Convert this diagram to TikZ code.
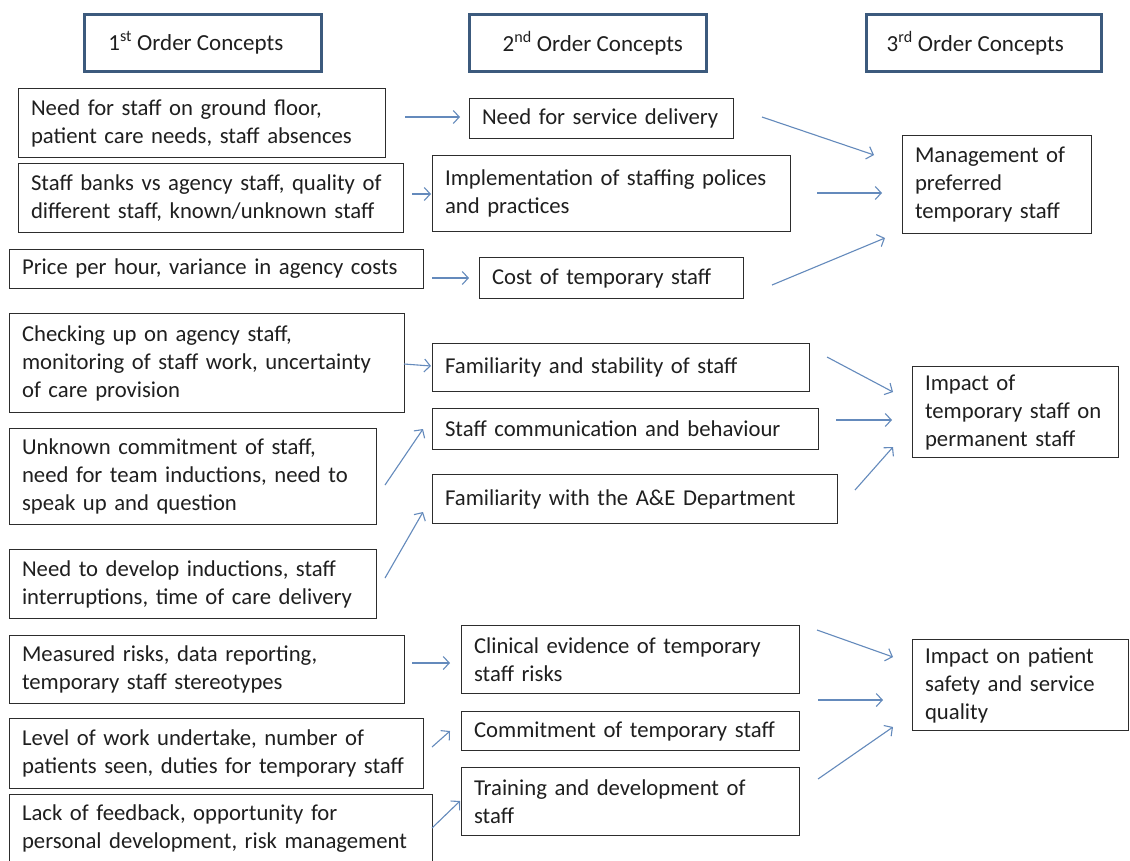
\documentclass[tikz,border=0pt]{standalone}
\usepackage{fontspec}
\setmainfont{Carlito}
\usetikzlibrary{arrows.meta}
\definecolor{hdr}{RGB}{60,90,125}
\definecolor{arrc}{RGB}{100,138,188}
\definecolor{bxc}{RGB}{45,45,45}
\tikzset{
  box/.style={draw=bxc, line width=1.1pt, align=left, inner xsep=12.5pt, inner ysep=2pt, font=\fontsize{22.7}{28}\selectfont, text=black!88},
  hbox/.style={draw=hdr, line width=2.6pt, align=center, font=\fontsize{23}{28}\selectfont, text=black!88},
  arr/.style={draw=arrc, line width=1.1pt, -{Straight Barb[length=6pt,width=13pt,line width=1.1pt]}}
}
\newcommand\bx[6]{%
  \pgfmathsetmacro\tw{#4-#2-25}\pgfmathsetmacro\bh{#5-#3}%
  \node[box, text width=\tw pt, minimum height=\bh pt, anchor=north west] (#1) at (#2,#3) {#6};}
\newcommand\hb[7]{%
  \pgfmathsetmacro\bw{#4-#2}\pgfmathsetmacro\bh{#5-#3}%
  \node[hbox, minimum width=\bw pt, minimum height=\bh pt, anchor=north west] (#1) at (#2,#3) {\kern#6pt #7};}
\begin{document}
\begin{tikzpicture}[x=1pt,y=-1pt]
\path[use as bounding box, fill=white] (0,0) rectangle (1130,860);
% headers
\hb{H1}{83}{13}{320}{70}{-14}{1\textsuperscript{st} Order Concepts}
\hb{H2}{468}{13}{705}{70}{10}{2\textsuperscript{nd} Order Concepts}
\hb{H3}{865}{13}{1100}{70}{-17}{3\textsuperscript{rd} Order Concepts}
% column 1
\bx{A1}{18}{88}{385}{157}{Need for staff on ground floor,\\patient care needs, staff absences}
\bx{A2}{18}{163}{403}{232}{Staff banks vs agency staff, quality of\\different staff, known/unknown staff}
\bx{A3}{9}{249}{423}{288}{Price per hour, variance in agency costs}
\bx{A4}{9}{313}{404}{412}{Checking up on agency staff,\\monitoring of staff work, uncertainty\\of care provision}
\bx{A5}{9}{428}{376}{524}{Unknown commitment of staff,\\need for team inductions, need to\\speak up and question}
\bx{A6}{9}{549}{376}{618}{Need to develop inductions, staff\\interruptions, time of care delivery}
\bx{A7}{9}{635}{404}{703}{Measured risks, data reporting,\\temporary staff stereotypes}
\bx{A8}{9}{718}{423}{788}{Level of work undertake, number of\\patients seen, duties for temporary staff}
\bx{A9}{9}{794}{432}{862}{Lack of feedback, opportunity for\\personal development, risk management}
% column 2
\bx{B1}{469}{98}{733}{138}{Need for service delivery}
\bx{B2}{432}{155}{790}{231}{Implementation of staffing polices\\and practices}
\bx{B3}{479}{257}{743}{298}{Cost of temporary staff}
\bx{B4}{432}{343}{809}{391}{Familiarity and stability of staff}
\bx{B5}{432}{408}{818}{449}{Staff communication and behaviour}
\bx{B6}{432}{474}{837}{523}{Familiarity with the A\&E Department}
\bx{B7}{461}{625}{799}{693}{Clinical evidence of temporary\\staff risks}
\bx{B8}{461}{711}{799}{750}{Commitment of temporary staff}
\bx{B9}{461}{767}{799}{835}{Training and development of\\staff}
% column 3
\bx{C1}{902}{135}{1091}{233}{Management of\\preferred\\temporary staff}
\bx{C2}{912}{366}{1118}{457}{Impact of\\temporary staff on\\permanent staff}
\bx{C3}{912}{639}{1128}{730}{Impact on patient\\safety and service\\quality}
% connector end points
\coordinate (A1o) at (405,117); \coordinate (B1i) at (460,117);
\coordinate (A2o) at (412,194); \coordinate (B2i) at (431,194);
\coordinate (A3o) at (432,278); \coordinate (B3i) at (469,278);
\coordinate (A4o) at (404,364); \coordinate (B4i) at (431,366);
\coordinate (A5o) at (385,485); \coordinate (B5i) at (423,429);
\coordinate (A6o) at (385,578); \coordinate (B6i) at (423,512);
\coordinate (A7o) at (412,663); \coordinate (B7i) at (450,663);
\coordinate (A8o) at (432,747); \coordinate (B8i) at (450,731);
\coordinate (A9o) at (432,828); \coordinate (B9i) at (460,801);
\coordinate (B1o) at (762,117); \coordinate (C1a) at (874,155);
\coordinate (B2o) at (817,193); \coordinate (C1b) at (882,193);
\coordinate (B3o) at (772,285); \coordinate (C1c) at (885,238);
\coordinate (B4o) at (827,357); \coordinate (C2a) at (893,392);
\coordinate (B5o) at (836,420); \coordinate (C2b) at (892,420);
\coordinate (B6o) at (855,490); \coordinate (C2c) at (893,447);
\coordinate (B7o) at (817,630); \coordinate (C3a) at (893,657);
\coordinate (B8o) at (818,700); \coordinate (C3b) at (883,700);
\coordinate (B9o) at (818,779); \coordinate (C3c) at (893,727);
% connectors
\foreach \s/\t in {A1o/B1i,A2o/B2i,A3o/B3i,A4o/B4i,A5o/B5i,A6o/B6i,A7o/B7i,A8o/B8i,A9o/B9i,
  B1o/C1a,B2o/C1b,B3o/C1c,B4o/C2a,B5o/C2b,B6o/C2c,B7o/C3a,B8o/C3b,B9o/C3c}
  \draw[arr] (\s) -- (\t);
\end{tikzpicture}
\end{document}
